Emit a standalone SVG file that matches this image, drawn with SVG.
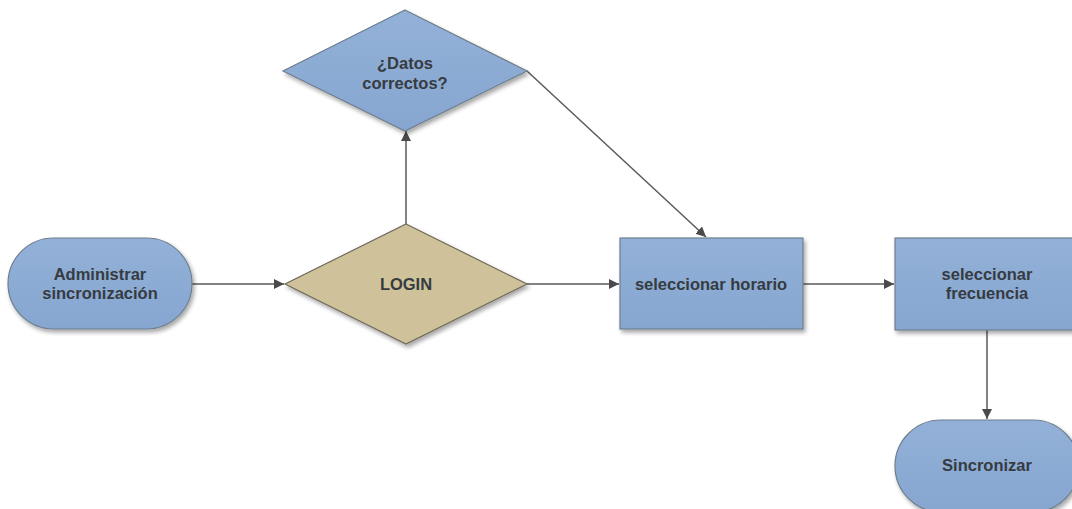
<svg xmlns="http://www.w3.org/2000/svg" width="1072" height="509" viewBox="0 0 1072 509">
  <defs>
    <filter id="shadow" x="-10%" y="-10%" width="130%" height="140%">
      <feGaussianBlur in="SourceAlpha" stdDeviation="2"/>
      <feOffset dx="2" dy="3" result="b"/>
      <feComponentTransfer><feFuncA type="linear" slope="0.35"/></feComponentTransfer>
      <feMerge><feMergeNode/><feMergeNode in="SourceGraphic"/></feMerge>
    </filter>
    <linearGradient id="blue" x1="0" y1="0" x2="0" y2="1">
      <stop offset="0" stop-color="#93b1d8"/>
      <stop offset="1" stop-color="#86a6d0"/>
    </linearGradient>
    <marker id="arrow" viewBox="0 0 10 10" refX="10" refY="5" markerWidth="10" markerHeight="10" markerUnits="userSpaceOnUse" orient="auto">
      <path d="M0,0 L10,5 L0,10 z" fill="#4a4a4a"/>
    </marker>
  </defs>
  <style>
    .node { fill: url(#blue); stroke: #6f7f90; stroke-width: 1.2; filter: url(#shadow); }
    .tan { fill: #cfc29b; stroke: #6f6a5a; stroke-width: 1.2; filter: url(#shadow); }
    .lbl { font-family: "Liberation Sans", Arial, sans-serif; font-weight: bold; font-size: 16.5px; fill: #363b41; text-anchor: middle; }
    .edge { stroke: #5a5a5a; stroke-width: 1.5; fill: none; marker-end: url(#arrow); }
  </style>
  <rect width="1072" height="509" fill="#ffffff"/>

  <g id="connectors">
    <line class="edge" x1="192" y1="284" x2="284" y2="284"/>
    <line class="edge" x1="406" y1="224" x2="406" y2="131"/>
    <line class="edge" x1="527" y1="71" x2="706" y2="237"/>
    <line class="edge" x1="527" y1="284" x2="619" y2="284"/>
    <line class="edge" x1="803" y1="284" x2="894" y2="284"/>
    <line class="edge" x1="987" y1="330" x2="987" y2="419"/>
  </g>

  <g id="administrar">
    <rect class="node" x="8" y="238" width="184" height="91" rx="45.5"/>
    <text class="lbl" x="100" y="280">Administrar</text>
    <text class="lbl" x="100" y="299">sincronización</text>
  </g>

  <g id="datos">
    <polygon class="node" points="405,10 527,71 405,131 283,71"/>
    <text class="lbl" x="405" y="69">¿Datos</text>
    <text class="lbl" x="405" y="89">correctos?</text>
  </g>

  <g id="login">
    <polygon class="tan" points="406,224 527,284 406,344 285,284"/>
    <text class="lbl" x="406" y="290">LOGIN</text>
  </g>

  <g id="horario">
    <rect class="node" x="620" y="238" width="183" height="91"/>
    <text class="lbl" x="711" y="290">seleccionar horario</text>
  </g>

  <g id="frecuencia">
    <rect class="node" x="895" y="238" width="184" height="92"/>
    <text class="lbl" x="987" y="280">seleccionar</text>
    <text class="lbl" x="987" y="299">frecuencia</text>
  </g>

  <g id="sincronizar">
    <rect class="node" x="895" y="420" width="184" height="92" rx="46"/>
    <text class="lbl" x="987" y="471">Sincronizar</text>
  </g>
</svg>
